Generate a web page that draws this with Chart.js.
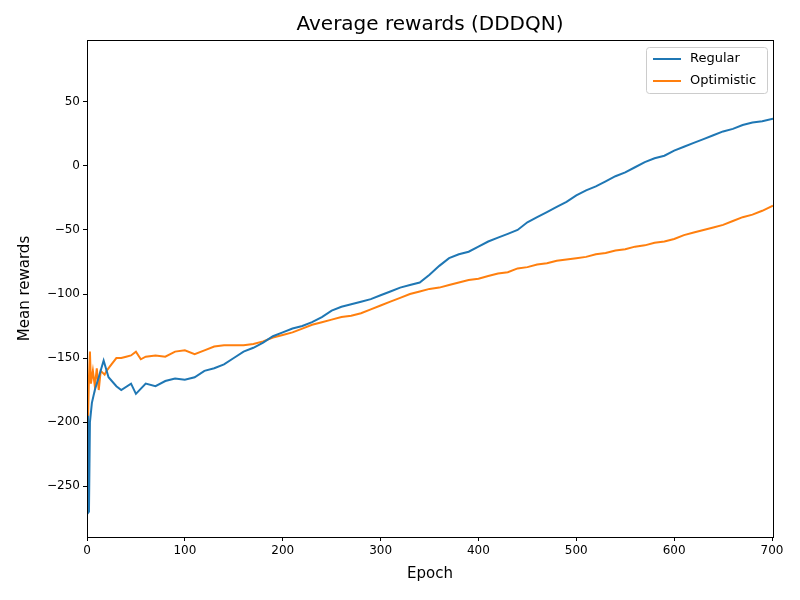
<!DOCTYPE html>
<html><head><script src="https://cdn.jsdelivr.net/npm/chart.js"></script>
<style>body{margin:0;background:#fff}canvas{display:block}</style></head>
<body><div style="width:800px;height:600px"><canvas id="c"></canvas></div>
<script>
const regEpochs=[0,1,2,3,5,8,12,17,22,30,35,45,50,60,70,80,90,100,110,120,130,140,150,160,170,180,190,200,210,220,230,240,250,260,270,280,290,300,310,320,330,340,350,360,370,380,390,400,410,420,430,440,450,460,470,480,490,500,510,520,530,540,550,560,570,580,590,600,610,620,630,640,650,660,670,680,690,701];
const regular=[-195,-271,-270,-200,-185,-175,-165,-152,-165,-172,-175,-170,-178,-170,-172,-168,-166,-167,-165,-160,-158,-155,-150,-145,-142,-138,-133,-130,-127,-125,-122,-118,-113,-110,-108,-106,-104,-101,-98,-95,-93,-91,-85,-78,-72,-69,-67,-63,-59,-56,-53,-50,-44,-40,-36,-32,-28,-23,-19,-16,-12,-8,-5,-1,3,6,8,12,15,18,21,24,27,29,32,34,35,37];
const optEpochs=[0,1,2,3,4,6,8,10,12,14,18,20,25,30,35,40,45,50,55,60,70,80,90,100,110,120,130,140,150,160,170,180,190,200,210,220,230,240,250,260,270,280,290,300,310,320,330,340,350,360,370,380,390,400,410,420,430,440,450,460,470,480,490,500,510,520,530,540,550,560,570,580,590,600,610,620,630,640,650,660,670,680,690,701];
const optimistic=[-170,-200,-165,-145,-170,-160,-172,-158,-175,-160,-163,-160,-155,-150,-150,-149,-148,-145,-151,-149,-148,-149,-145,-144,-147,-144,-141,-140,-140,-140,-139,-137,-134,-132,-130,-127,-124,-122,-120,-118,-117,-115,-112,-109,-106,-103,-100,-98,-96,-95,-93,-91,-89,-88,-86,-84,-83,-80,-79,-77,-76,-74,-73,-72,-71,-69,-68,-66,-65,-63,-62,-60,-59,-57,-54,-52,-50,-48,-46,-43,-40,-38,-35,-31];
const seriesNames=['Regular','Optimistic'];
const colors=['#1f77b4','#ff7f0e'];
const F='DejaVu Sans';
const deco={id:'deco',afterDraw(ch){const c=ch.ctx,a=ch.chartArea;c.save();
c.strokeStyle='#000';c.lineWidth=1;c.strokeRect(a.left+0.5,a.top+0.5,a.right-a.left,a.bottom-a.top);
c.fillStyle='#000';c.textAlign='center';c.textBaseline='middle';c.font='20px '+F;c.fillText('Average rewards (DDDQN)',(a.left+a.right)/2,25);
c.font='15px '+F;c.fillText('Epoch',(a.left+a.right)/2,574);
c.translate(25,(a.top+a.bottom)/2);c.rotate(-Math.PI/2);c.fillText('Mean rewards',0,0);c.restore();
c.save();const x=a.right-127,y=a.top+7;c.fillStyle='rgba(255,255,255,0.8)';c.strokeStyle='#ccc';c.beginPath();c.roundRect(x+0.5,y+0.5,121,46,3);c.fill();c.stroke();
c.font='13px '+F;c.textBaseline='middle';c.textAlign='left';
seriesNames.forEach((n,i)=>{const yy=y+12+i*22;c.strokeStyle=colors[i];c.lineWidth=2;c.beginPath();c.moveTo(x+7,yy);c.lineTo(x+35,yy);c.stroke();c.fillStyle='#000';c.fillText(n,x+44,yy);});c.restore();}};
new Chart(document.getElementById('c'),{type:'line',
data:{datasets:[{label:seriesNames[0],data:regEpochs.map((e,i)=>({x:e,y:regular[i]})),borderColor:colors[0],borderWidth:2,pointRadius:0,tension:0},
{label:seriesNames[1],data:optEpochs.map((e,i)=>({x:e,y:optimistic[i]})),borderColor:colors[1],borderWidth:2,pointRadius:0,tension:0}]},
options:{responsive:true,maintainAspectRatio:false,animation:false,layout:{padding:{top:40,right:27,left:0,bottom:0}},
plugins:{legend:{display:false},tooltip:{enabled:false}},
scales:{x:{type:'linear',min:0,max:701,afterBuildTicks(s){s.ticks=[0,100,200,300,400,500,600,700].map(v=>({value:v}))},afterFit(s){s.height=63},
grid:{drawOnChartArea:false,tickLength:4,color:'#000'},border:{display:false},ticks:{color:'#000',font:{family:F,size:12},padding:3}},
y:{min:-289.8,max:98.4,afterBuildTicks(s){s.ticks=[-250,-200,-150,-100,-50,0,50].map(v=>({value:v}))},afterFit(s){s.width=87},
grid:{drawOnChartArea:false,tickLength:4,color:'#000'},border:{display:false},ticks:{color:'#000',font:{family:F,size:12},padding:3,callback:v=>String(v).replace('-','−')}}}},
plugins:[deco]});
</script></body></html>
